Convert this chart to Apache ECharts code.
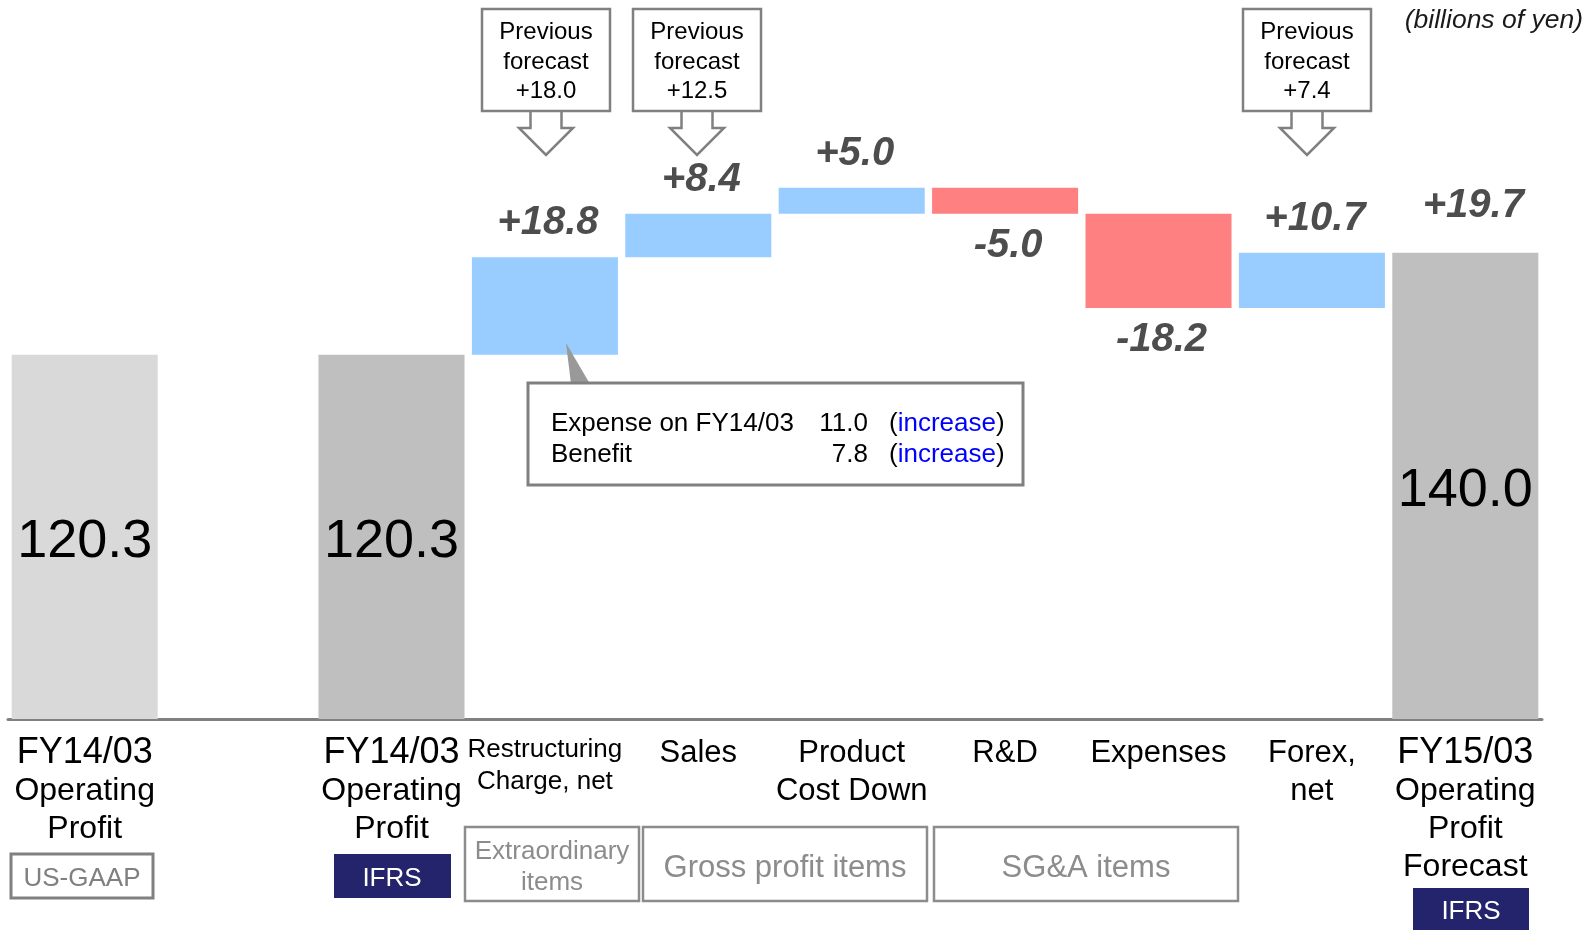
<!DOCTYPE html>
<html>
<head>
    <meta charset="utf-8">
    <script src="https://cdn.jsdelivr.net/npm/echarts@6/dist/echarts.min.js"></script>
    <style>
        html, body { margin: 0; padding: 0; background: #fff; }
    </style>
</head>
<body>
<div id="main" style="width: 1595px;height:930px;"></div>
<script type="text/javascript">
    // data (billions of yen)
    var categories = [
        'FY14/03\nOperating\nProfit',
        '',
        'FY14/03\nOperating\nProfit',
        'Restructuring\nCharge, net',
        'Sales',
        'Product\nCost Down',
        'R&D',
        'Expenses',
        'Forex,\nnet',
        'FY15/03\nOperating\nProfit\nForecast'
    ];
    var totals = [120.3, '-', 120.3, '-', '-', '-', '-', '-', '-', 140.0];
    var deltas = ['-', '-', '-', 18.8, 8.4, 5.0, -5.0, -18.2, 10.7, '-'];
    var previousForecast = ['+18.0', '+12.5', '+7.4'];

    // waterfall pieces
    var baseData = [], upData = [], downData = [];
    var running = totals[2];
    for (var i = 0; i < categories.length; i++) {
        var d = deltas[i];
        if (d === '-') {
            baseData.push('-'); upData.push('-'); downData.push('-');
            continue;
        }
        baseData.push(Math.min(running, running + d));
        upData.push(d > 0 ? d : '-');
        downData.push(d < 0 ? -d : '-');
        running += d;
    }
    var finalLabel = totals.map(function (v, i) { return i === 9 ? v : '-'; });

    var FONT = '"Liberation Sans", Arial, sans-serif';
    var deltaLabel = {
        show: true,
        fontSize: 40,
        fontWeight: 'bold',
        fontStyle: 'italic',
        fontFamily: FONT,
        color: '#4d4d4d',
        offset: [3, 0]
    };

    var myChart = echarts.init(document.getElementById('main'));

    function txt(x, y, text, size, color, align, extra) {
        var st = {
            text: text, x: x, y: y,
            font: (extra && extra.italic ? 'italic ' : '') + size + 'px ' + FONT,
            fill: color,
            align: align, textAlign: align,
            verticalAlign: 'middle', textVerticalAlign: 'middle'
        };
        if (extra && extra.lineHeight) st.lineHeight = extra.lineHeight;
        if (extra && extra.rich) st.rich = extra.rich;
        return { type: 'text', z: 100, style: st };
    }
    function box(x, y, w, h, stroke, fill, lw) {
        return {
            type: 'rect', z: 100,
            shape: { x: x, y: y, width: w, height: h },
            style: { fill: fill, stroke: stroke, lineWidth: lw }
        };
    }
    function callout(cx, label) {
        return [
            {
                type: 'polygon', z: 100,
                shape: { points: [[cx - 15.5, 110], [cx - 15.5, 128], [cx - 27, 128], [cx, 155],
                                  [cx + 27, 128], [cx + 15.5, 128], [cx + 15.5, 110]] },
                style: { fill: '#fff', stroke: '#808080', lineWidth: 2.5 }
            },
            box(cx - 64, 9, 128, 102, '#808080', '#fff', 2.5),
            txt(cx, 62, 'Previous\nforecast\n' + label, 24, '#000', 'center', { lineHeight: 29.5 })
        ];
    }

    var navy = '#24246c';
    var blueRich = { rich: { b: { fill: '#0000ff', font: '26px ' + FONT } } };
    var graphics = []
        .concat(callout(546, previousForecast[0]))
        .concat(callout(697, previousForecast[1]))
        .concat(callout(1307, previousForecast[2]))
        .concat([
            txt(1583, 21, '(billions of yen)', 26.5, '#1a1a1a', 'right', { italic: true }),
            // note under restructuring bar
            {
                type: 'polygon', z: 100,
                shape: { points: [[566, 343], [571, 384], [590, 384]] },
                style: { fill: '#999' }
            },
            box(528, 383, 495, 102, '#808080', '#fff', 3),
            txt(551, 423.5, 'Expense on FY14/03', 26, '#000', 'left'),
            txt(868, 423.5, '11.0', 26, '#000', 'right'),
            txt(889, 423.5, '({b|increase})', 26, '#000', 'left', blueRich),
            txt(551, 454.5, 'Benefit', 26, '#000', 'left'),
            txt(868, 454.5, '7.8', 26, '#000', 'right'),
            txt(889, 454.5, '({b|increase})', 26, '#000', 'left', blueRich),
            // accounting standard tags
            box(11, 854, 142, 44, '#808080', '#fff', 3),
            txt(82, 879, 'US-GAAP', 26, '#808080', 'center'),
            box(334, 854, 117, 44, null, navy, 0),
            txt(392, 879, 'IFRS', 26, '#fff', 'center'),
            box(1413, 888, 116, 42, null, navy, 0),
            txt(1471, 912, 'IFRS', 26, '#fff', 'center'),
            // item groups
            box(465, 827, 174, 74, '#8c8c8c', '#fff', 2.5),
            txt(552, 867, 'Extraordinary\nitems', 26, '#8c8c8c', 'center', { lineHeight: 31 }),
            box(643, 827, 284, 74, '#8c8c8c', '#fff', 2.5),
            txt(785, 868, 'Gross profit items', 31, '#8c8c8c', 'center'),
            box(934, 827, 304, 74, '#8c8c8c', '#fff', 2.5),
            txt(1086, 868, 'SG&A items', 31, '#8c8c8c', 'center')
        ]);

    var option = {
        animation: false,
        grid: { left: 8, right: 53, top: 149, bottom: 211 },
        xAxis: {
            type: 'category',
            data: categories,
            axisLine: { onZero: false, lineStyle: { color: '#808080', width: 3 } },
            axisTick: { show: false },
            axisLabel: {
                interval: 0,
                margin: 15,
                color: '#000',
                fontFamily: FONT,
                fontSize: 31,
                lineHeight: 38,
                formatter: function (value, index) {
                    var lines = value.split('\n');
                    if (index === 0 || index === 2 || index === 9) {
                        return '{a|' + lines[0] + '}\n' + lines.slice(1).map(function (l) {
                            return '{b|' + l + '}';
                        }).join('\n');
                    }
                    if (index === 3) {
                        return lines.map(function (l) { return '{s|' + l + '}'; }).join('\n');
                    }
                    return value;
                },
                rich: {
                    a: { fontSize: 36, lineHeight: 38, fontFamily: FONT, color: '#000' },
                    b: { fontSize: 32, lineHeight: 38, fontFamily: FONT, color: '#000' },
                    s: { fontSize: 26, lineHeight: 32, fontFamily: FONT, color: '#000' }
                }
            }
        },
        yAxis: {
            type: 'value',
            min: 50,
            max: 160,
            show: false,
            splitLine: { show: false }
        },
        series: [
            {
                name: 'base',
                type: 'bar',
                stack: 'w',
                barCategoryGap: '4.8%',
                itemStyle: { color: 'transparent' },
                data: baseData
            },
            {
                name: 'total',
                type: 'bar',
                stack: 'w',
                itemStyle: {
                    color: function (p) { return p.dataIndex === 0 ? '#d9d9d9' : '#bfbfbf'; }
                },
                label: {
                    show: true,
                    position: 'inside',
                    offset: [0, 5],
                    fontSize: 54,
                    fontFamily: FONT,
                    color: '#000',
                    formatter: function (p) { return p.value.toFixed(1); }
                },
                data: totals
            },
            {
                name: 'increase',
                type: 'bar',
                stack: 'w',
                itemStyle: { color: '#99ccff' },
                label: Object.assign({}, deltaLabel, {
                    position: 'top',
                    distance: 14,
                    formatter: function (p) { return '+' + p.value.toFixed(1); }
                }),
                data: upData
            },
            {
                name: 'decrease',
                type: 'bar',
                stack: 'w',
                itemStyle: { color: '#ff8080' },
                label: Object.assign({}, deltaLabel, {
                    position: 'bottom',
                    distance: 12,
                    formatter: function (p) { return '-' + p.value.toFixed(1); }
                }),
                data: downData
            },
            {
                name: 'change',
                type: 'scatter',
                symbolSize: 0,
                itemStyle: { opacity: 1 },
                label: Object.assign({}, deltaLabel, {
                    position: 'top',
                    distance: 27,
                    offset: [8, 0],
                    formatter: function (p) { return '+' + (p.value - totals[2]).toFixed(1); }
                }),
                data: finalLabel
            }
        ],
        graphic: graphics
    };
    myChart.setOption(option);
</script>
</body>
</html>
